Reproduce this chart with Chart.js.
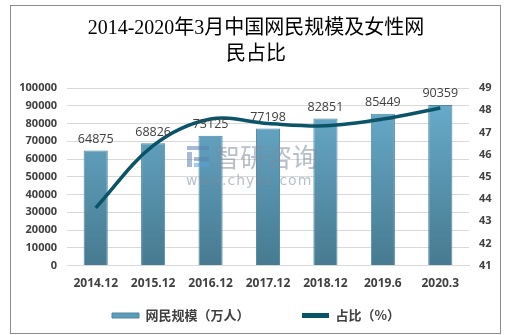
<!DOCTYPE html>
<html>
<head>
<meta charset="utf-8">
<script src="https://cdn.jsdelivr.net/npm/chart.js@4.4.0/dist/chart.umd.min.js"></script>
<style>
  html, body { margin: 0; padding: 0; background: #fff; }
  #wrap { width: 510px; height: 335px; }
</style>
</head>
<body>
<div id="wrap"><canvas id="c" width="510" height="335"></canvas></div>
<script>
// data
const periods = ['2014.12', '2015.12', '2016.12', '2017.12', '2018.12', '2019.6', '2020.3'];
const netizens = [64875, 68826, 73125, 77198, 82851, 85449, 90359];   // 万人
const femaleShare = [43.6, 46.4, 47.6, 47.4, 47.3, 47.6, 48.1];        // %
const titleLines = ['2014-2020年3月中国网民规模及女性网', '民占比'];
const barLabel = '网民规模（万人）';
const lineLabel = '占比（%）';

const TXT = '#404040';
const LINE_COLOR = '#0b5468';

// frame + white background
const framePlugin = {
  id: 'frame',
  beforeDraw(chart) {
    const ctx = chart.ctx;
    ctx.save();
    ctx.fillStyle = '#fff';
    ctx.fillRect(0, 0, chart.width, chart.height);
    ctx.strokeStyle = '#8c8c8c';
    ctx.lineWidth = 1;
    ctx.strokeRect(10.5, 5.5, 490, 328);
    ctx.restore();
  }
};

// watermark
const markPlugin = {
  id: 'mark',
  afterDatasetsDraw(chart) {
    const ctx = chart.ctx;
    ctx.save();
    ctx.globalAlpha = 0.55;
    ctx.fillStyle = '#7d8a9c';
    ctx.font = '26px "Noto Sans CJK SC"';
    ctx.textBaseline = 'middle';
    ctx.fillText('智研咨询', 214, 157);
    ctx.font = '14px "DejaVu Sans"';
    ctx.letterSpacing = '1px';
    ctx.fillText('www.chyxx.com', 186, 181);
    ctx.fillStyle = '#5f7fb0';
    ctx.fillRect(187, 146, 22, 4);
    ctx.fillRect(187, 152, 5, 15);
    ctx.fillRect(194, 157, 15, 4);
    ctx.fillStyle = '#5aa0d8';
    ctx.fillRect(194, 163, 15, 4);
    ctx.restore();
  }
};

// value labels above bars
const valuePlugin = {
  id: 'values',
  afterDatasetsDraw(chart) {
    const ctx = chart.ctx;
    const meta = chart.getDatasetMeta(1);
    ctx.save();
    ctx.fillStyle = TXT;
    ctx.font = '12.5px "Open Sans", "Noto Sans"';
    ctx.textAlign = 'center';
    ctx.textBaseline = 'bottom';
    meta.data.forEach((bar, i) => {
      ctx.fillText(String(netizens[i]), bar.x, bar.y - 5);
    });
    ctx.restore();
  }
};

function barGradient(context) {
  const chart = context.chart;
  const area = chart.chartArea;
  if (!area) return '#5d9dbb';
  const g = chart.ctx.createLinearGradient(0, area.top, 0, area.bottom);
  g.addColorStop(0, '#6aafcf');
  g.addColorStop(1, '#477a90');
  return g;
}

const ctx = document.getElementById('c').getContext('2d');
new Chart(ctx, {
  data: {
    labels: periods,
    datasets: [
      {
        type: 'line',
        label: lineLabel,
        data: femaleShare,
        yAxisID: 'y2',
        borderColor: LINE_COLOR,
        backgroundColor: LINE_COLOR,
        borderWidth: 3.5,
        tension: 0.35,
        pointRadius: 0,
        order: 0
      },
      {
        type: 'bar',
        // trailing ideographic spaces widen the gap between the two legend items
        label: barLabel + '\u3000\u3000\u3000\u3000',
        data: netizens,
        yAxisID: 'y',
        backgroundColor: barGradient,
        borderColor: '#4d87a2',
        borderWidth: 1,
        categoryPercentage: 1,
        barPercentage: 0.42,
        order: 1
      }
    ]
  },
  options: {
    responsive: false,
    animation: false,
    devicePixelRatio: 1,
    layout: { padding: { left: 10, right: 8, top: 10, bottom: 3 } },
    plugins: {
      title: {
        display: true,
        text: titleLines,
        color: '#000',
        font: { family: '"Liberation Serif", "Noto Sans CJK SC"', size: 20, weight: 'normal', lineHeight: 1.3 },
        padding: { top: 6, bottom: 20 }
      },
      legend: {
        position: 'bottom',
        reverse: true,
        labels: {
          color: TXT,
          font: { family: '"Noto Sans CJK SC"', size: 13, weight: 'bold' },
          boxWidth: 27,
          boxHeight: 5,
          padding: 7,
          generateLabels(chart) {
            const items = Chart.defaults.plugins.legend.labels.generateLabels(chart);
            items.forEach(it => {
              if (it.datasetIndex === 1) { it.fillStyle = '#5d9dbb'; it.strokeStyle = '#4d87a2'; it.lineWidth = 1; }
              else { it.fillStyle = LINE_COLOR; it.strokeStyle = LINE_COLOR; it.lineWidth = 0; }
            });
            return items;
          }
        }
      },
      tooltip: { enabled: false }
    },
    scales: {
      x: {
        grid: { display: false },
        border: { display: true, color: '#d9d9d9' },
        ticks: { color: TXT, font: { family: '"Open Sans", "Noto Sans"', size: 12, weight: 'bold' }, padding: 3, maxRotation: 0 },
        afterFit(scale) { scale.height += 8; }
      },
      y: {
        position: 'left',
        min: 0, max: 100000,
        ticks: {
          stepSize: 10000, color: TXT, padding: 10,
          font: { family: '"Open Sans", "Noto Sans"', size: 11, weight: 'bold' },
          callback: v => String(v)
        },
        grid: { color: '#d9d9d9', drawTicks: false },
        border: { display: false },
        afterFit(scale) { scale.width = 57; }
      },
      y2: {
        position: 'right',
        min: 41, max: 49,
        ticks: { stepSize: 1, color: TXT, font: { family: '"Open Sans", "Noto Sans"', size: 11, weight: 'bold' }, padding: 10 },
        grid: { display: false, drawTicks: false },
        border: { display: false },
        afterFit(scale) { scale.width = 33; }
      }
    }
  },
  plugins: [framePlugin, markPlugin, valuePlugin]
});
</script>
</body>
</html>
